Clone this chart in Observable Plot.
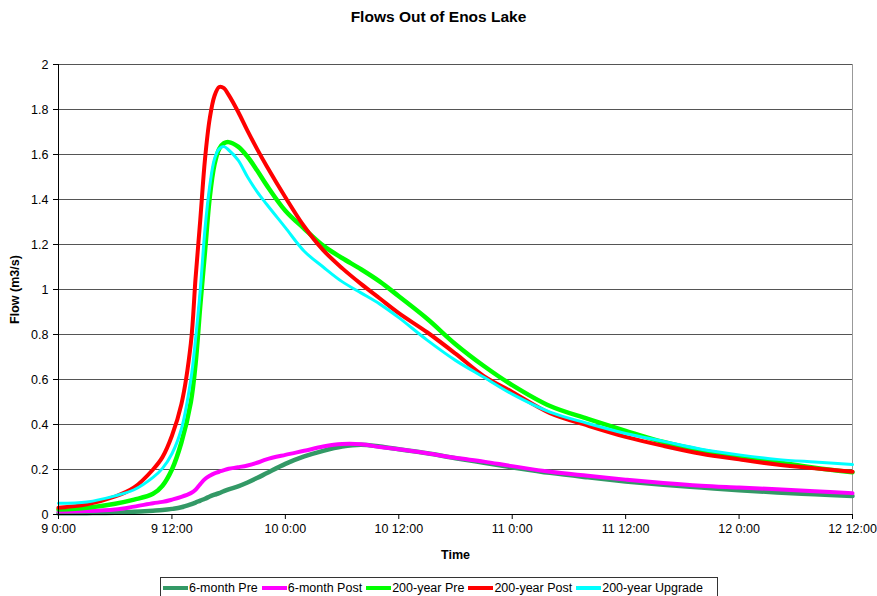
<!DOCTYPE html>
<html>
<head>
<meta charset="utf-8">
<script src="https://cdn.jsdelivr.net/npm/d3@7"></script>
<script src="https://cdn.jsdelivr.net/npm/@observablehq/plot@0.6"></script>
<style>
  body { margin: 0; background: #fff; font-family: "Liberation Sans", Arial, sans-serif; }
  #wrap { position: relative; width: 877px; height: 596px; overflow: hidden; }
  #title { position: absolute; left: 0; top: 8px; width: 877px; text-align: center; font-weight: bold; font-size: 15.5px; }
  #chart { position: absolute; left: 0; top: 36px; }
  #legend { position: absolute; left: 160px; top: 577px; width: 558px; height: 22px; border: 1px solid #333; box-sizing: border-box; display: flex; align-items: center; font-size: 12.5px; white-space: nowrap; padding-left: 2px; }
  .item { display: flex; align-items: center; margin-right: 4px; }
  .sw { width: 25px; height: 4px; margin-right: 1px; }
  g[aria-label="y-axis label"] text, g[aria-label="x-axis label"] text { font-weight: bold; }
</style>
</head>
<body>
<div id="wrap">
  <div id="title">Flows Out of Enos Lake</div>
  <div id="chart"></div>
  <div id="legend"></div>
</div>
<script>
// hours since 9 0:00
const hours = [0, 3, 6, 8, 10, 11, 12, 13, 14, 14.5, 15, 15.5, 16, 16.5, 17, 17.5, 18, 19, 20, 21, 22, 24, 26, 28, 30, 32, 34, 36, 39, 42, 45, 48, 52, 56, 60, 64, 68, 72, 76, 80, 84];

const sixMonthPre = [0.005, 0.006, 0.008, 0.012, 0.017, 0.02, 0.025, 0.032, 0.045, 0.053, 0.062, 0.07, 0.08, 0.088, 0.095, 0.104, 0.112, 0.125, 0.142, 0.162, 0.183, 0.225, 0.258, 0.283, 0.302, 0.31, 0.302, 0.29, 0.272, 0.25, 0.23, 0.21, 0.185, 0.165, 0.147, 0.132, 0.12, 0.108, 0.098, 0.09, 0.082];
const sixMonthPost = [0.013, 0.015, 0.022, 0.035, 0.05, 0.056, 0.066, 0.078, 0.095, 0.11, 0.135, 0.158, 0.172, 0.183, 0.19, 0.197, 0.203, 0.21, 0.218, 0.23, 0.245, 0.265, 0.283, 0.302, 0.313, 0.312, 0.30, 0.29, 0.272, 0.252, 0.235, 0.215, 0.19, 0.172, 0.155, 0.14, 0.128, 0.12, 0.112, 0.103, 0.095];
const yr200Pre = [0.022, 0.03, 0.048, 0.066, 0.092, 0.128, 0.2, 0.32, 0.50, 0.67, 0.93, 1.17, 1.41, 1.555, 1.625, 1.65, 1.655, 1.635, 1.59, 1.53, 1.465, 1.35, 1.27, 1.195, 1.14, 1.09, 1.035, 0.97, 0.87, 0.757, 0.66, 0.575, 0.482, 0.425, 0.372, 0.322, 0.285, 0.257, 0.232, 0.208, 0.188];
const yr200Post = [0.03, 0.045, 0.08, 0.12, 0.20, 0.255, 0.35, 0.49, 0.76, 1.05, 1.31, 1.58, 1.76, 1.86, 1.90, 1.895, 1.865, 1.79, 1.705, 1.625, 1.55, 1.41, 1.28, 1.175, 1.095, 1.025, 0.96, 0.895, 0.81, 0.715, 0.615, 0.545, 0.45, 0.395, 0.345, 0.305, 0.27, 0.245, 0.222, 0.205, 0.19];
const yr200Upgrade = [0.05, 0.056, 0.083, 0.11, 0.165, 0.205, 0.27, 0.38, 0.60, 0.78, 1.0, 1.27, 1.46, 1.58, 1.625, 1.635, 1.62, 1.575, 1.50, 1.435, 1.38, 1.275, 1.17, 1.10, 1.035, 0.985, 0.935, 0.875, 0.775, 0.685, 0.61, 0.535, 0.455, 0.405, 0.36, 0.325, 0.29, 0.265, 0.245, 0.233, 0.222];

const seriesNames = ["6-month Pre", "6-month Post", "200-year Pre", "200-year Post", "200-year Upgrade"];
const seriesColors = ["#339966", "#FF00FF", "#00FF00", "#FF0000", "#00FFFF"];
const seriesWidths = [4.5, 4, 4.5, 4, 3];
const seriesValues = [sixMonthPre, sixMonthPost, yr200Pre, yr200Post, yr200Upgrade];

const xTicks = [0, 12, 24, 36, 48, 60, 72, 84];
const xTickLabels = ["9 0:00", "9 12:00", "10 0:00", "10 12:00", "11 0:00", "11 12:00", "12 0:00", "12 12:00"];
const yTicks = [0, 0.2, 0.4, 0.6, 0.8, 1, 1.2, 1.4, 1.6, 1.8, 2];
const yTickLabels = ["0", "0.2", "0.4", "0.6", "0.8", "1", "1.2", "1.4", "1.6", "1.8", "2"];

const lineMarks = seriesNames.map((name, i) =>
  Plot.line(hours.map((h, j) => ({t: h, v: seriesValues[i][j]})), {
    x: "t", y: "v", stroke: seriesColors[i], strokeWidth: seriesWidths[i], curve: "catmull-rom"
  })
);

const plot = Plot.plot({
  width: 877,
  height: 536,
  marginLeft: 58,
  marginRight: 25,
  marginTop: 28,
  marginBottom: 58,
  style: {fontFamily: "'Liberation Sans', Arial, sans-serif", fontSize: "12.5px", background: "#fff", color: "#000"},
  x: {domain: [0, 84]},
  y: {domain: [0, 2]},
  marks: [
    Plot.ruleY(yTicks.slice(1), {stroke: "#555", strokeWidth: 1}),
    Plot.ruleX([84], {stroke: "#999", strokeWidth: 1}),
    ...lineMarks,
    Plot.ruleX([0], {stroke: "#000", strokeWidth: 1}),
    Plot.ruleY([0], {stroke: "#000", strokeWidth: 1}),
    Plot.axisX({ticks: xTicks, tickFormat: (d) => xTickLabels[xTicks.indexOf(d)], tickSize: 5, tickPadding: 5,
      label: "Time", labelAnchor: "center", labelArrow: "none", labelOffset: 44}),
    Plot.axisY({ticks: yTicks, tickFormat: (d) => yTickLabels[yTicks.indexOf(d)], tickSize: 5, tickPadding: 5,
      label: "Flow (m3/s)", labelAnchor: "center", labelArrow: "none", labelOffset: 48})
  ]
});
document.getElementById("chart").appendChild(plot);

const legend = document.getElementById("legend");
seriesNames.forEach((name, i) => {
  const item = document.createElement("div");
  item.className = "item";
  const sw = document.createElement("div");
  sw.className = "sw";
  sw.style.background = seriesColors[i];
  const lab = document.createElement("span");
  lab.textContent = name;
  item.appendChild(sw);
  item.appendChild(lab);
  legend.appendChild(item);
});
</script>
</body>
</html>
